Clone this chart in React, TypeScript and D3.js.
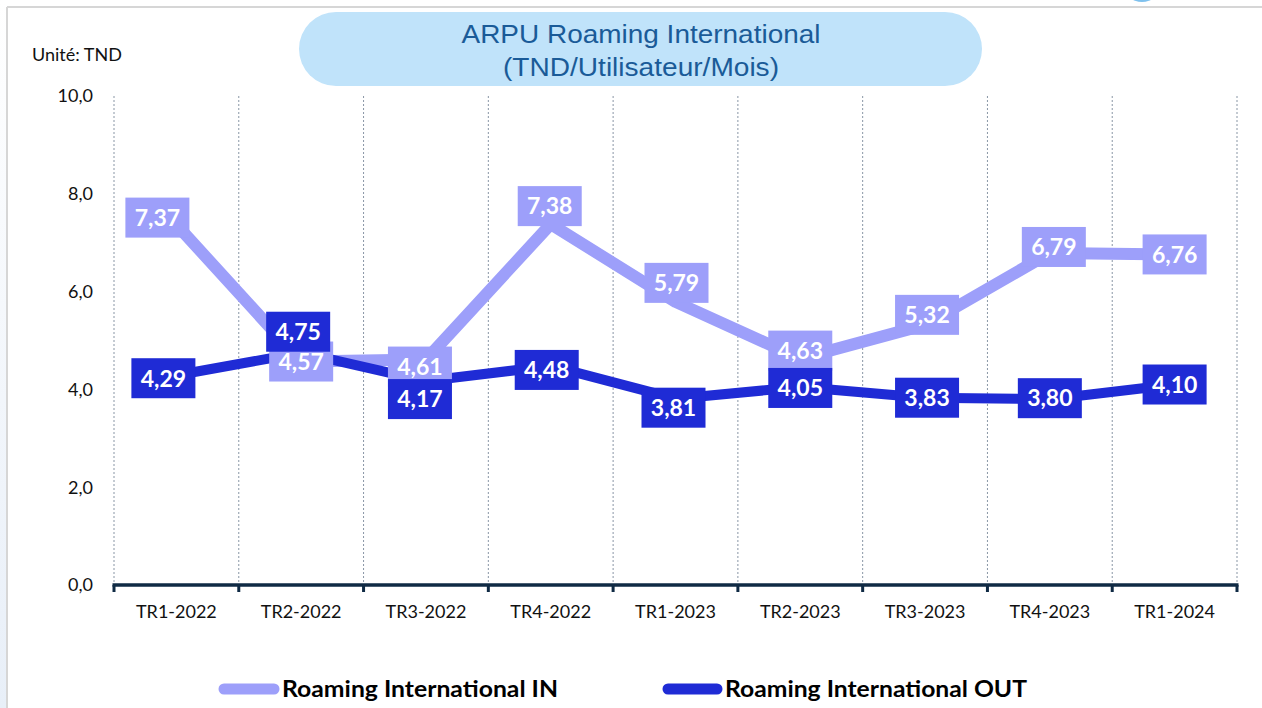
import React from "react";
import * as d3 from "d3";

// quarters on the x axis
const quarters = [
  "TR1-2022",
  "TR2-2022",
  "TR3-2022",
  "TR4-2022",
  "TR1-2023",
  "TR2-2023",
  "TR3-2023",
  "TR4-2023",
  "TR1-2024",
];

// ARPU values (TND / user / month)
const roamingIn = [7.37, 4.57, 4.61, 7.38, 5.79, 4.63, 5.32, 6.79, 6.76];
const roamingOut = [4.29, 4.75, 4.17, 4.48, 3.81, 4.05, 3.83, 3.8, 4.1];

const yTicks = [0, 2, 4, 6, 8, 10];

const seriesNames = ["Roaming International IN", "Roaming International OUT"];

// label nudges (px) as placed in the original chart
const inLabelShift = [
  [-19, -7], [0, 0], [-6, 7], [-1, -18], [1, -19], [0, -8], [2, -10], [4, -6], [0, 0],
];
const outLabelShift = [
  [-13, 3], [-3, -21], [-6, 18], [-4, 4], [-2, 9], [0, 1], [2, 0], [0, -1], [0, 0],
];

const W = 1262;
const H = 708;
const IN_COLOR = "#9d9ffa";
const OUT_COLOR = "#1f2bd5";
const FONT = "Lato, 'Open Sans', sans-serif";

const comma = (f: string) => (v: number) => d3.format(f)(v).replace(".", ",");

export default function App() {
  const x = d3.scaleBand<string>().domain(quarters).range([114, 1237]).padding(0);
  const y = d3.scaleLinear().domain([0, 10]).range([585, 96]);
  const cx = (q: string) => (x(q) ?? 0) + x.bandwidth() / 2;

  const line = d3
    .line<number>()
    .x((_, i) => cx(quarters[i]))
    .y((d) => y(d));

  const bounds = quarters.map((q) => x(q) ?? 0).concat([x.range()[1]]);

  const fmtTick = comma(".1f");
  const fmtVal = comma(".2f");

  const labels = (vals: number[], shift: number[][], color: string, key: string) =>
    vals.map((v, i) => {
      const lx = cx(quarters[i]) + shift[i][0];
      const ly = y(v) + shift[i][1];
      return (
        <g key={key + i} transform={`translate(${lx},${ly})`}>
          <rect x={-32} y={-20} width={64} height={40} fill={color} />
          <text
            textAnchor="middle"
            dy="0.36em"
            fontFamily={FONT}
            fontWeight={700}
            fontSize={23}
            fill="#fff"
          >
            {fmtVal(v)}
          </text>
        </g>
      );
    });

  return (
    <div style={{ position: "absolute", left: 0, top: 0 }}>
      <svg width={W} height={H} style={{ display: "block", background: "#fff" }}>
        <defs>
          <linearGradient id="edge" x1="0" y1="0" x2="0" y2="1">
            <stop offset="0" stopColor="#ffffff" />
            <stop offset="1" stopColor="#e8eff8" />
          </linearGradient>
        </defs>
        <rect x={0} y={0} width={7} height={H} fill="url(#edge)" />
        <ellipse cx={1142} cy={-14} rx={18} ry={16} fill="#7fc1ee" />
        <line x1={7} y1={7} x2={W} y2={7} stroke="#d6d6d6" strokeWidth={2} />
        <line x1={7} y1={7} x2={7} y2={H} stroke="#d6d6d6" strokeWidth={2} />

        {/* title pill */}
        <rect x={299} y={12} width={683} height={74} rx={37} fill="#c0e3fa" />
        <text
          x={641}
          y={43}
          textAnchor="middle"
          fontFamily="'Liberation Sans', Arial, sans-serif"
          fontSize={25}
          fill="#1a5b98"
          textLength={359}
          lengthAdjust="spacingAndGlyphs"
        >
          ARPU Roaming International
        </text>
        <text
          x={641}
          y={76}
          textAnchor="middle"
          fontFamily="'Liberation Sans', Arial, sans-serif"
          fontSize={25}
          fill="#1a5b98"
          textLength={276}
          lengthAdjust="spacingAndGlyphs"
        >
          (TND/Utilisateur/Mois)
        </text>

        <text x={32} y={61} fontFamily={FONT} fontSize={18} fill="#111">
          Unité: TND
        </text>

        {/* dotted vertical grid */}
        {bounds.map((b, i) => (
          <line
            key={"g" + i}
            x1={b}
            x2={b}
            y1={y(10)}
            y2={y(0)}
            stroke="#8996a5"
            strokeWidth={1}
            strokeDasharray="2,2"
          />
        ))}

        {/* y tick labels */}
        {yTicks.map((t) => (
          <text
            key={"yt" + t}
            x={93}
            y={y(t)}
            dy="0.35em"
            textAnchor="end"
            fontFamily={FONT}
            fontSize={18}
            fill="#111"
          >
            {fmtTick(t)}
          </text>
        ))}

        {/* x axis */}
        <line x1={112.5} x2={1238.5} y1={y(0)} y2={y(0)} stroke="#0f2a44" strokeWidth={3.5} />
        {bounds.map((b, i) => (
          <line key={"t" + i} x1={b} x2={b} y1={y(0)} y2={y(0) + 7} stroke="#0f2a44" strokeWidth={3} />
        ))}
        {quarters.map((q) => (
          <text
            key={q}
            x={cx(q)}
            y={612}
            dy="0.35em"
            textAnchor="middle"
            fontFamily={FONT}
            fontSize={18}
            fill="#111"
          >
            {q}
          </text>
        ))}

        {/* series lines */}
        <path d={line(roamingIn) ?? ""} fill="none" stroke={IN_COLOR} strokeWidth={12} strokeLinejoin="round" />
        <path d={line(roamingOut) ?? ""} fill="none" stroke={OUT_COLOR} strokeWidth={10} strokeLinejoin="round" />

        {/* data labels */}
        {labels(roamingIn, inLabelShift, IN_COLOR, "in")}
        {labels(roamingOut, outLabelShift, OUT_COLOR, "out")}

        {/* legend */}
        <line x1={224} x2={274} y1={689} y2={689} stroke={IN_COLOR} strokeWidth={11} strokeLinecap="round" />
        <text
          x={282}
          y={697}
          fontFamily={FONT}
          fontWeight={700}
          fontSize={22}
          fill="#000"
          textLength={276}
          lengthAdjust="spacingAndGlyphs"
        >
          {seriesNames[0]}
        </text>
        <line x1={668} x2={717} y1={689} y2={689} stroke={OUT_COLOR} strokeWidth={11} strokeLinecap="round" />
        <text
          x={725}
          y={697}
          fontFamily={FONT}
          fontWeight={700}
          fontSize={22}
          fill="#000"
          textLength={302}
          lengthAdjust="spacingAndGlyphs"
        >
          {seriesNames[1]}
        </text>
      </svg>
    </div>
  );
}
